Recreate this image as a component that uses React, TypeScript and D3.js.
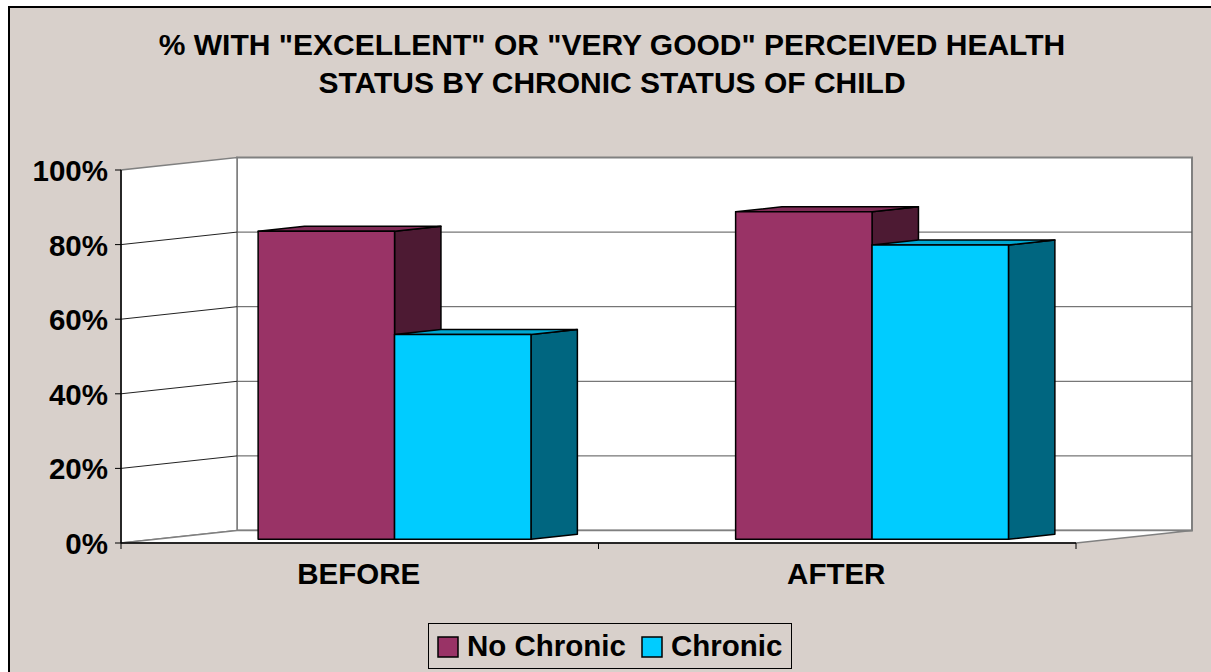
import React from "react";
import * as d3 from "d3";

const categories = ["BEFORE", "AFTER"];
const seriesNames = ["No Chronic", "Chronic"];
const noChronic = [0.826, 0.878];
const chronic = [0.549, 0.789];
const yTicks = [0, 0.2, 0.4, 0.6, 0.8, 1.0];
const titleLines = ['% WITH "EXCELLENT" OR "VERY GOOD" PERCEIVED HEALTH', "STATUS BY CHRONIC STATUS OF CHILD"];

const colors = {
  "No Chronic": { front: "#993366", side: "#4D1A33", top: "#7F2A55" },
  Chronic: { front: "#00CCFF", side: "#006680", top: "#00A8D2" },
};

const W = 1211;
const H = 672;
const FONT = "'Liberation Sans', Arial, sans-serif";
const BG = "#D8D0CB";

export default function App() {
  const x0 = 121, x1 = 1076, yBottom = 543, yTop = 170;
  const DX = 116, DY = -12.5;
  const proj = (x: number, y: number, z: number): [number, number] => [x + DX * z, y + DY * z];

  const xScale = d3.scaleBand<string>().domain(categories).range([x0, x1]).padding(0);
  const inner = d3
    .scaleBand<string>()
    .domain(seriesNames)
    .range([0, xScale.bandwidth()])
    .paddingInner(0)
    .paddingOuter(0.75);
  const yScale = d3.scaleLinear().domain([0, 1]).range([yBottom, yTop]);

  const z0 = 0.3, z1 = 0.7;
  const pts = (arr: [number, number][]) => arr.map((p) => p.join(",")).join(" ");

  const seriesData: { name: string; values: number[] }[] = [
    { name: "No Chronic", values: noChronic },
    { name: "Chronic", values: chronic },
  ];

  const bars: JSX.Element[] = [];
  categories.forEach((cat, ci) => {
    seriesData.forEach((s) => {
      const v = s.values[ci];
      const xl = (xScale(cat) as number) + (inner(s.name) as number);
      const xr = xl + inner.bandwidth();
      const yb = yScale(0);
      const yt = yScale(v);
      const c = (colors as any)[s.name];
      const front: [number, number][] = [proj(xl, yb, z0), proj(xr, yb, z0), proj(xr, yt, z0), proj(xl, yt, z0)];
      const side: [number, number][] = [proj(xr, yb, z0), proj(xr, yb, z1), proj(xr, yt, z1), proj(xr, yt, z0)];
      const top: [number, number][] = [proj(xl, yt, z0), proj(xr, yt, z0), proj(xr, yt, z1), proj(xl, yt, z1)];
      bars.push(
        <g key={cat + s.name}>
          <polygon points={pts(side)} fill={c.side} stroke="#000" strokeWidth={1.5} strokeLinejoin="round" />
          <polygon points={pts(top)} fill={c.top} stroke="#000" strokeWidth={1.5} strokeLinejoin="round" />
          <polygon points={pts(front)} fill={c.front} stroke="#000" strokeWidth={1.5} strokeLinejoin="round" />
        </g>
      );
    });
  });

  const backWall: [number, number][] = [proj(x0, yBottom, 1), proj(x1, yBottom, 1), proj(x1, yTop, 1), proj(x0, yTop, 1)];
  const sideWall: [number, number][] = [[x0, yBottom], proj(x0, yBottom, 1), proj(x0, yTop, 1), [x0, yTop]];
  const floor: [number, number][] = [[x0, yBottom], [x1, yBottom], proj(x1, yBottom, 1), proj(x0, yBottom, 1)];

  const catTicks = [x0, ...categories.map((c) => (xScale(c) as number) + xScale.bandwidth())];

  return (
    <svg
      width={W}
      height={H}
      style={{ position: "absolute", left: 0, top: 0, display: "block" }}
      fontFamily={FONT}
    >
      <rect x={0} y={0} width={W} height={H} fill="#fff" />
      <rect x={9} y={7} width={W + 20} height={H + 20} fill={BG} stroke="#000" strokeWidth={2} />

      {titleLines.map((t, i) => (
        <text key={i} x={612} y={55 + i * 38} textAnchor="middle" fontSize={30} fontWeight="bold" fill="#000">
          {t}
        </text>
      ))}

      {/* walls */}
      <polygon points={pts(backWall)} fill="#fff" stroke="#808080" strokeWidth={2} />
      <polygon points={pts(sideWall)} fill="#fff" stroke="#808080" strokeWidth={1.5} />
      <polygon points={pts(floor)} fill="#fff" stroke="#808080" strokeWidth={1.5} />

      {/* gridlines */}
      {yTicks.filter((t) => t > 0 && t < 1).map((t) => {
        const y = yScale(t);
        const a = proj(x0, y, 1);
        const b = proj(x1, y, 1);
        return (
          <g key={t}>
            <line x1={x0} y1={y} x2={a[0]} y2={a[1]} stroke="#222" strokeWidth={1} />
            <line x1={a[0]} y1={a[1]} x2={b[0]} y2={b[1]} stroke="#555" strokeWidth={1} />
          </g>
        );
      })}

      {/* axes */}
      <line x1={x0} y1={yTop} x2={x0} y2={yBottom} stroke="#000" strokeWidth={1.5} />
      <line x1={x0} y1={yBottom} x2={x1} y2={yBottom} stroke="#000" strokeWidth={1.5} />
      {yTicks.map((t) => (
        <g key={"yt" + t}>
          <line x1={x0 - 6} y1={yScale(t)} x2={x0} y2={yScale(t)} stroke="#000" strokeWidth={1} />
          <text x={108} y={yScale(t) + 11} textAnchor="end" fontSize={29.5} fontWeight="bold" fill="#000">
            {d3.format(".0%")(t)}
          </text>
        </g>
      ))}
      {catTicks.map((x, i) => (
        <line key={"ct" + i} x1={x} y1={yBottom} x2={x} y2={yBottom + 6} stroke="#000" strokeWidth={1} />
      ))}
      {categories.map((c) => (
        <text
          key={"cl" + c}
          x={(xScale(c) as number) + xScale.bandwidth() / 2 - 1}
          y={584}
          textAnchor="middle"
          fontSize={29.5}
          fontWeight="bold"
          fill="#000"
        >
          {c}
        </text>
      ))}

      {bars}

      {/* legend */}
      <rect x={428.5} y={623.5} width={363} height={45} fill="none" stroke="#000" strokeWidth={1} />
      {seriesNames.map((s, i) => {
        const lx = [438, 642][i];
        return (
          <g key={"lg" + s}>
            <rect x={lx} y={637} width={20} height={20} fill={(colors as any)[s].front} stroke="#000" strokeWidth={1.5} />
            <text x={lx + 29} y={656} fontSize={29.5} fontWeight="bold" fill="#000">
              {s}
            </text>
          </g>
        );
      })}
    </svg>
  );
}
